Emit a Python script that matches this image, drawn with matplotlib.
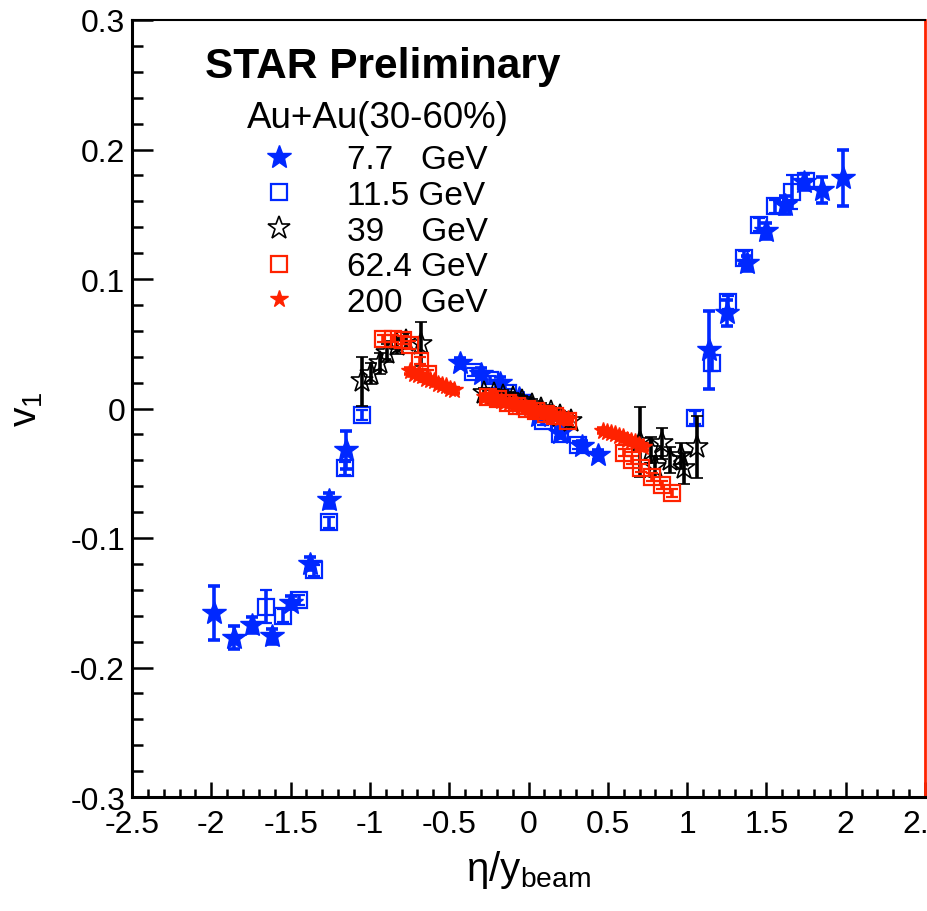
import matplotlib
matplotlib.use('Agg')
import matplotlib.pyplot as plt
from matplotlib.ticker import MultipleLocator, FuncFormatter

plt.rcParams['font.family'] = ['Liberation Sans', 'DejaVu Sans']
plt.rcParams['mathtext.fontset'] = 'custom'
plt.rcParams['mathtext.rm'] = 'Liberation Sans'
plt.rcParams['mathtext.it'] = 'Liberation Sans:italic'
plt.rcParams['mathtext.bf'] = 'Liberation Sans:bold'
plt.rcParams['axes.unicode_minus'] = False

# v1 vs eta/y_beam, Au+Au 30-60%
x77 = [-1.98, -1.86, -1.745, -1.62, -1.50, -1.38, -1.26, -1.15,
       -0.43, -0.30, -0.18, -0.06, 0.06, 0.20, 0.34, 0.44,
       1.14, 1.25, 1.38, 1.50, 1.62, 1.74, 1.85, 1.98]
y77 = [-0.158, -0.177, -0.167, -0.176, -0.150, -0.120, -0.071, -0.032,
       0.035, 0.027, 0.020, 0.008, -0.006, -0.019, -0.029, -0.036,
       0.045, 0.074, 0.112, 0.137, 0.157, 0.175, 0.169, 0.178]
e77 = [0.021, 0.009, 0.006, 0.006, 0.005, 0.005, 0.006, 0.015,
       0.004, 0.004, 0.004, 0.004, 0.004, 0.004, 0.004, 0.004,
       0.030, 0.010, 0.006, 0.006, 0.007, 0.006, 0.010, 0.022]

x115 = [-1.655, -1.55, -1.45, -1.35, -1.257, -1.156, -1.05,
        -0.35, -0.24, -0.13, -0.02, 0.09, 0.20, 0.31,
        1.052, 1.157, 1.26, 1.36, 1.456, 1.557, 1.662, 1.75]
y115 = [-0.153, -0.160, -0.148, -0.125, -0.088, -0.046, -0.005,
        0.028, 0.022, 0.012, 0.002, -0.010, -0.020, -0.028,
        -0.007, 0.035, 0.082, 0.1165, 0.142, 0.156, 0.167, 0.176]
e115 = [0.013, 0.005, 0.004, 0.004, 0.004, 0.005, 0.004,
        0.003, 0.003, 0.003, 0.003, 0.003, 0.003, 0.003,
        0.005, 0.006, 0.005, 0.005, 0.005, 0.005, 0.013, 0.006]

x39 = [-1.05, -0.99, -0.935, -0.89, -0.83, -0.77, -0.68,
       -0.28, -0.22, -0.16, -0.10, -0.04, 0.02, 0.08, 0.14, 0.20, 0.27,
       0.705, 0.77, 0.80, 0.84, 0.89, 0.96, 0.98, 1.065]
y39 = [0.021, 0.027, 0.035, 0.043, 0.049, 0.052, 0.050,
       0.012, 0.011, 0.010, 0.008, 0.006, 0.003, 0.000, -0.003, -0.006, -0.010,
       -0.026, -0.032, -0.045, -0.027, -0.040, -0.037, -0.046, -0.030]
e39 = [0.019, 0.008, 0.008, 0.007, 0.007, 0.006, 0.017,
       0.004, 0.004, 0.004, 0.004, 0.004, 0.004, 0.004, 0.004, 0.004, 0.004,
       0.027, 0.010, 0.008, 0.012, 0.010, 0.010, 0.012, 0.024]

x624 = [-0.915, -0.855, -0.79, -0.745, -0.685, -0.635,
        -0.255, -0.19, -0.13, -0.07, -0.01, 0.05, 0.11, 0.17, 0.25,
        0.60, 0.65, 0.71, 0.78, 0.84, 0.905]
y624 = [0.054, 0.054, 0.053, 0.049, 0.037, 0.027,
        0.009, 0.007, 0.004, 0.002, 0.000, -0.002, -0.004, -0.006, -0.010,
        -0.034, -0.040, -0.046, -0.053, -0.059, -0.065]
e624 = [0.003] * len(x624)

x200 = [-0.745, -0.72, -0.695, -0.67, -0.645, -0.62, -0.595, -0.57, -0.545, -0.52, -0.495, -0.47,
        -0.275, -0.25, -0.225, -0.2, -0.175, -0.15, -0.125, -0.1, -0.075, -0.05, -0.025,
        0.0, 0.025, 0.05, 0.075, 0.1, 0.125, 0.15, 0.175, 0.2, 0.225, 0.25,
        0.47, 0.495, 0.52, 0.545, 0.57, 0.595, 0.62, 0.645, 0.67, 0.695, 0.72]
y200 = [0.029, 0.027, 0.026, 0.025, 0.023, 0.022, 0.021, 0.019, 0.018, 0.017, 0.015, 0.014,
        0.009, 0.008, 0.008, 0.007, 0.006, 0.005, 0.004, 0.004, 0.003, 0.002, 0.001,
        0.000, -0.001, -0.002, -0.002, -0.003, -0.004, -0.005, -0.006, -0.007, -0.007, -0.008,
        -0.017, -0.018, -0.019, -0.020, -0.021, -0.022, -0.024, -0.025, -0.026, -0.028, -0.030]
e200 = [0.002] * len(x200)

labels = ['7.7\u2007 GeV', '11.5 GeV', '39\u2007\u2008 GeV', '62.4 GeV', '200\u2008 GeV']

BLUE = '#0028ff'
RED = '#ff2200'

fig = plt.figure(figsize=(9.27, 9.12), dpi=100)
ax = fig.add_axes([132 / 927, 1 - 798 / 912, 793 / 927, 777 / 912])

eb_kw = dict(linestyle='none', elinewidth=2.6, capsize=4, capthick=2.6)
h115 = ax.errorbar(x115, y115, yerr=e115, fmt='s', ms=12, mfc='none', mec=BLUE, mew=1.6,
                   ecolor=BLUE, zorder=3, **eb_kw)
h77 = ax.errorbar(x77, y77, yerr=e77, fmt='*', ms=18, color=BLUE, mec=BLUE,
                  ecolor=BLUE, zorder=4, **eb_kw)
h39 = ax.errorbar(x39, y39, yerr=e39, fmt='*', ms=17, mfc='none', mec='black', mew=1.2,
                  ecolor='black', zorder=5, **eb_kw)
h624 = ax.errorbar(x624, y624, yerr=e624, fmt='s', ms=12, mfc='none', mec=RED, mew=1.6,
                   ecolor=RED, zorder=6, **eb_kw)
h200 = ax.errorbar(x200, y200, yerr=e200, fmt='*', ms=13, color=RED, mec=RED,
                   ecolor=RED, zorder=7, **eb_kw)

ax.set_xlim(-2.5, 2.5)
ax.set_ylim(-0.3, 0.3)

fmt = FuncFormatter(lambda v, p: f'{round(v, 3):g}')
ax.xaxis.set_major_locator(MultipleLocator(0.5))
ax.xaxis.set_minor_locator(MultipleLocator(0.1))
ax.yaxis.set_major_locator(MultipleLocator(0.1))
ax.yaxis.set_minor_locator(MultipleLocator(0.02))
ax.xaxis.set_major_formatter(fmt)
ax.yaxis.set_major_formatter(fmt)

ax.tick_params(axis='both', which='both', direction='in', width=1.8, labelsize=23,
               top=False, right=False)
ax.tick_params(axis='y', which='major', length=15, pad=5)
ax.tick_params(axis='y', which='minor', length=8)
ax.tick_params(axis='x', which='major', length=11, pad=9)
ax.tick_params(axis='x', which='minor', length=6, pad=9)

for s in ['left', 'bottom']:
    ax.spines[s].set_linewidth(2.2)
ax.spines['top'].set_linewidth(1.5)
ax.spines['right'].set_color(RED)
ax.spines['right'].set_linewidth(2)

ax.set_xlabel(r'$\mathrm{\eta/y}_{\mathrm{beam}}$', fontsize=29)
ax.xaxis.set_label_coords(0.5, -0.066)
ax.set_ylabel(r'$\mathrm{v}_{1}$', fontsize=28)
ax.yaxis.set_label_coords(-0.110, 0.5)

ax.text(0.092, 0.927, 'STAR Preliminary', transform=ax.transAxes, fontsize=30.5,
        fontweight='bold', va='baseline', ha='left')
ax.text(0.145, 0.862, 'Au+Au(30-60%)', transform=ax.transAxes, fontsize=26.5,
        va='baseline', ha='left')

handles = [h77[0], h115[0], h39[0], h624[0], h200[0]]
ax.legend(handles, labels, loc='upper left', bbox_to_anchor=(0.154, 0.840),
          frameon=False, fontsize=24, handlelength=1.5, handletextpad=1.3,
          labelspacing=0.14, borderpad=0, borderaxespad=0, numpoints=1)

fig.savefig('out.png', dpi=100)
